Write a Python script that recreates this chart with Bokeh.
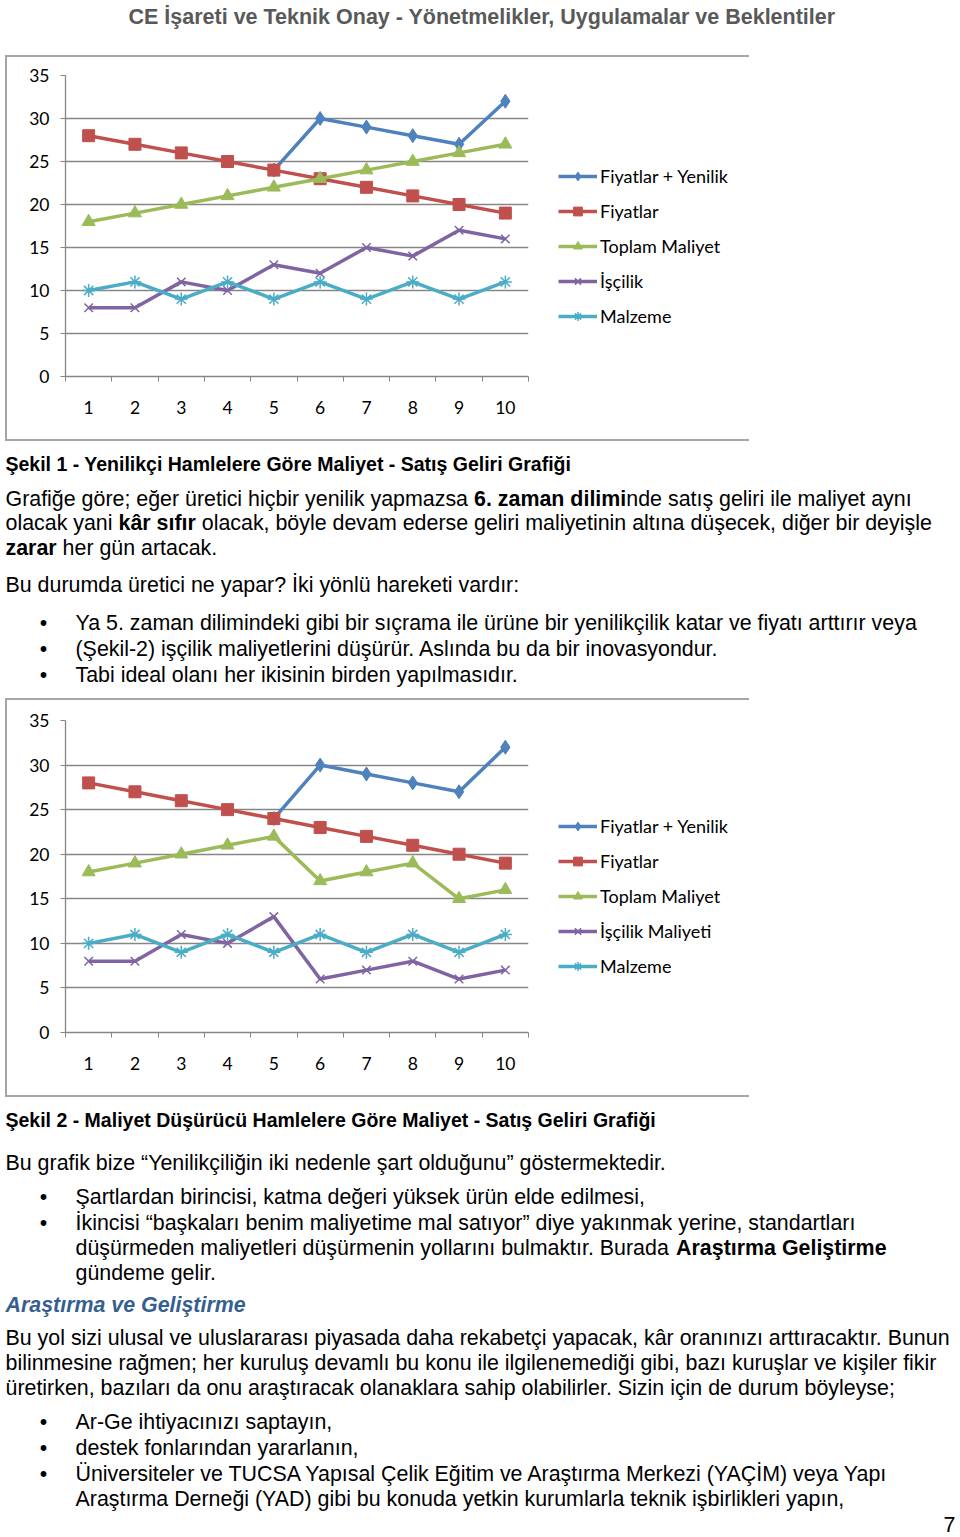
from bokeh.plotting import figure
from bokeh.models import Range1d, FixedTicker, Legend, LegendItem, Spacer
from bokeh.layouts import column, row
from bokeh.core.properties import value
from bokeh.embed import file_html
from bokeh.resources import INLINE

nan = float("nan")

# ---------------- chart data ----------------
periods = [1, 2, 3, 4, 5, 6, 7, 8, 9, 10]
y_ticks = [0, 5, 10, 15, 20, 25, 30, 35]

names_1 = ["Fiyatlar + Yenilik", "Fiyatlar", "Toplam Maliyet", "İşçilik", "Malzeme"]
fig1_fiyat_yenilik = [nan, nan, nan, nan, 24, 30, 29, 28, 27, 32]
fig1_fiyatlar = [28, 27, 26, 25, 24, 23, 22, 21, 20, 19]
fig1_toplam = [18, 19, 20, 21, 22, 23, 24, 25, 26, 27]
fig1_iscilik = [8, 8, 11, 10, 13, 12, 15, 14, 17, 16]
fig1_malzeme = [10, 11, 9, 11, 9, 11, 9, 11, 9, 11]

names_2 = ["Fiyatlar + Yenilik", "Fiyatlar", "Toplam Maliyet", "İşçilik Maliyeti", "Malzeme"]
fig2_fiyat_yenilik = [nan, nan, nan, nan, 24, 30, 29, 28, 27, 32]
fig2_fiyatlar = [28, 27, 26, 25, 24, 23, 22, 21, 20, 19]
fig2_toplam = [18, 19, 20, 21, 22, 17, 18, 19, 15, 16]
fig2_iscilik = [8, 8, 11, 10, 13, 6, 7, 8, 6, 7]
fig2_malzeme = [10, 11, 9, 11, 9, 11, 9, 11, 9, 11]

# ---------------- page texts ----------------
TITLE = "CE İşareti ve Teknik Onay - Yönetmelikler, Uygulamalar ve Beklentiler"
CAPTION_1 = "Şekil 1 - Yenilikçi Hamlelere Göre Maliyet - Satış Geliri Grafiği"
PARA_1 = [
    [("Grafiğe göre; eğer üretici hiçbir yenilik yapmazsa ", "normal"), ("6. zaman dilimi", "bold"),
     ("nde satış geliri ile maliyet aynı", "normal")],
    [("olacak yani ", "normal"), ("kâr sıfır", "bold"),
     (" olacak, böyle devam ederse geliri maliyetinin altına düşecek, diğer bir deyişle", "normal")],
    [("zarar", "bold"), (" her gün artacak.", "normal")],
]
PARA_2 = "Bu durumda üretici ne yapar? İki yönlü hareketi vardır:"
BULLETS_1 = [
    "Ya 5. zaman dilimindeki gibi bir sıçrama ile ürüne bir yenilikçilik katar ve fiyatı arttırır veya",
    "(Şekil-2) işçilik maliyetlerini düşürür. Aslında bu da bir inovasyondur.",
    "Tabi ideal olanı her ikisinin birden yapılmasıdır.",
]
CAPTION_2 = "Şekil 2 - Maliyet Düşürücü Hamlelere Göre Maliyet - Satış Geliri Grafiği"
PARA_3 = "Bu grafik bize “Yenilikçiliğin iki nedenle şart olduğunu” göstermektedir."
BULLETS_2 = [
    [[("Şartlardan birincisi, katma değeri yüksek ürün elde edilmesi,", "normal")]],
    [[("İkincisi “başkaları benim maliyetime mal satıyor” diye yakınmak yerine, standartları", "normal")],
     [("düşürmeden maliyetleri düşürmenin yollarını bulmaktır. Burada ", "normal"),
      ("Araştırma Geliştirme", "bold")],
     [("gündeme gelir.", "normal")]],
]
HEADING = "Araştırma ve Geliştirme"
PARA_4 = [
    "Bu yol sizi ulusal ve uluslararası piyasada daha rekabetçi yapacak, kâr oranınızı arttıracaktır. Bunun",
    "bilinmesine rağmen; her kuruluş devamlı bu konu ile ilgilenemediği gibi, bazı kuruşlar ve kişiler fikir",
    "üretirken, bazıları da onu araştıracak olanaklara sahip olabilirler. Sizin için de durum böyleyse;",
]
BULLETS_3 = [
    ["Ar-Ge ihtiyacınızı saptayın,"],
    ["destek fonlarından yararlanın,"],
    ["Üniversiteler ve TUCSA Yapısal Çelik Eğitim ve Araştırma Merkezi (YAÇİM) veya Yapı",
     "Araştırma Derneği (YAD) gibi bu konuda yetkin kurumlarla teknik işbirlikleri yapın,"],
]
PAGE_NO = "7"

# ---------------- styling ----------------
BODY_FONT = "Liberation Sans"
BODY_FS = 21.4
CAP_FS = 19.5
CHART_FONT = "Lato"
GRID = "#868686"
FRAME_LINE = "#a6a6a6"
COLORS = ["#4F81BD", "#C0504D", "#9BBB59", "#8064A2", "#4BACC6"]

# Arial-compatible advance widths (1/1000 em) used to chain mixed-weight segments
REG_W = {' ': 278, '.': 278, ',': 278, ';': 278, 'a': 556, 'b': 556, 'c': 500, 'd': 556, 'e': 556,
         'f': 278, 'g': 556, 'h': 556, 'i': 222, 'k': 500, 'l': 222, 'm': 833, 'n': 556, 'o': 556,
         'p': 556, 'r': 333, 's': 500, 't': 278, 'u': 556, 'y': 500, 'z': 500, 'ğ': 556, 'ü': 556,
         'ş': 500, 'ç': 500, 'ı': 278, 'ö': 556, 'â': 556, 'G': 778, 'B': 667}
BOLD_W = {' ': 278, '.': 278, '6': 556, 'a': 556, 'd': 611, 'f': 333, 'i': 278, 'k': 556, 'l': 278,
          'm': 889, 'n': 611, 'r': 389, 's': 556, 'z': 500, 'â': 556, 'ı': 278, 'e': 556, 't': 333,
          'ş': 556, 'A': 722, 'G': 778}


def no_align(p):
    try:
        p.frame_align = False
    except Exception:
        pass


def text_width(s, style, fs):
    table = BOLD_W if "bold" in style else REG_W
    return sum(table.get(c, 556) for c in s) / 1000.0 * fs


def text_fig(y_top, y_bottom):
    p = figure(width=960, height=int(y_bottom - y_top), x_range=Range1d(0, 960),
               y_range=Range1d(y_bottom, y_top), output_backend="svg", toolbar_location=None,
               x_axis_location=None, y_axis_location=None, min_border=0)
    p.grid.visible = False
    p.outline_line_color = None
    no_align(p)
    return p


def put(p, x, y, s, style="normal", fs=BODY_FS, color="#000000", align="left", font=BODY_FONT):
    p.text(x=[x], y=[y], text=[s], text_font=value(font), text_font_size=value(f"{fs}px"),
           text_font_style=style, text_color=color, text_align=align, text_baseline="middle")


def put_segments(p, x, y, segs, fs=BODY_FS):
    for s, style in segs:
        lead = len(s) - len(s.lstrip(" "))
        x += text_width(" " * lead, style, fs)
        s = s.lstrip(" ")
        put(p, x, y, s, style, fs)
        x += text_width(s, style, fs)


def bullet(p, y):
    put(p, 43, y, "•", "normal", BODY_FS, align="center")


def rule(w, h):
    return Spacer(width=w, height=h, styles={"background-color": FRAME_LINE})


# ---------------- charts ----------------
def chart(series, names, frame_h, top, bottom, legend_y):
    p = figure(frame_width=463, frame_height=frame_h, x_range=Range1d(0.5, 10.5),
               y_range=Range1d(0, 35), output_backend="svg", toolbar_location=None,
               min_border_left=58, min_border_right=219, min_border_top=top,
               min_border_bottom=bottom)
    no_align(p)
    p.outline_line_color = None
    p.xgrid.grid_line_color = None
    p.ygrid.ticker = FixedTicker(ticks=y_ticks)
    p.ygrid.grid_line_color = GRID
    p.ygrid.grid_line_width = 1.3

    p.xaxis.ticker = FixedTicker(ticks=periods, minor_ticks=[i + 0.5 for i in range(0, 11)])
    p.xaxis.major_tick_line_color = None
    p.xaxis.major_tick_out = 0
    p.xaxis.minor_tick_line_color = GRID
    p.xaxis.minor_tick_out = 5
    p.xaxis.minor_tick_in = 0
    p.xaxis.major_label_standoff = 19

    p.yaxis.ticker = FixedTicker(ticks=y_ticks)
    p.yaxis.minor_tick_line_color = None
    p.yaxis.major_tick_line_color = GRID
    p.yaxis.major_tick_out = 5
    p.yaxis.major_tick_in = 0
    p.yaxis.major_label_standoff = 11

    for ax in (p.xaxis, p.yaxis):
        ax.axis_line_color = GRID
        ax.axis_line_width = 1.3
        ax.major_label_text_font = CHART_FONT
        ax.major_label_text_font_size = "17.5px"
        ax.major_label_text_color = "#000000"

    markers = [("diamond", 14), ("square", 12), ("triangle", 13), ("x", 12), ("asterisk", 13)]
    items = []
    for vals, name, col, (mk, sz) in zip(series, names, COLORS, markers):
        lr = p.line(periods, vals, line_color=col, line_width=3.5)
        if mk in ("x", "asterisk"):
            sr = p.scatter(periods, vals, marker=mk, size=sz, line_color=col, line_width=1.5)
        else:
            sr = p.scatter(periods, vals, marker=mk, size=sz, fill_color=col, line_color=col)
        items.append(LegendItem(label=name, renderers=[lr, sr]))

    leg = Legend(items=items, location=(30, legend_y), glyph_width=39, glyph_height=22,
                 label_height=22, label_standoff=3, spacing=13, padding=0, margin=0,
                 border_line_color=None, background_fill_alpha=0,
                 label_text_font=CHART_FONT, label_text_font_size="18px",
                 label_text_color="#000000")
    p.add_layout(leg, "right")

    inner_h = top + frame_h + bottom
    block = column(rule(744, 2),
                   row(rule(2, inner_h), p, rule(2, inner_h), spacing=0),
                   rule(744, 2), spacing=0)
    block.margin = (0, 0, 0, 5)
    return block


c1 = chart([fig1_fiyat_yenilik, fig1_fiyatlar, fig1_toplam, fig1_iscilik, fig1_malzeme],
           names_1, frame_h=301, top=18, bottom=63, legend_y=49)
c2 = chart([fig2_fiyat_yenilik, fig2_fiyatlar, fig2_toplam, fig2_iscilik, fig2_malzeme],
           names_2, frame_h=312, top=20, bottom=63, legend_y=55)

# ---------------- text blocks ----------------
t0 = text_fig(0, 55)
put(t0, 481.5, 16, TITLE, "bold", 21.5, "#595959", align="center")

t1 = text_fig(441, 698)
put(t1, 5, 463, CAPTION_1, "bold", CAP_FS)
for segs, y in zip(PARA_1, [498, 522, 547]):
    put_segments(t1, 5, y, segs)
put(t1, 5, 584, PARA_2)
for line, y in zip(BULLETS_1, [622, 648, 674]):
    bullet(t1, y)
    put(t1, 75, y, line)

t2 = text_fig(1097, 1537)
put(t2, 5, 1119, CAPTION_2, "bold", CAP_FS)
put(t2, 5, 1162, PARA_3)
ys = iter([1196, 1222, 1247, 1272])
for item in BULLETS_2:
    for k, segs in enumerate(item):
        y = next(ys)
        if k == 0:
            bullet(t2, y)
        put_segments(t2, 75, y, segs)
put(t2, 5, 1304, HEADING, "bold italic", BODY_FS, "#365F91")
for line, y in zip(PARA_4, [1337, 1362, 1387]):
    put(t2, 5, y, line)
ys = iter([1421, 1447, 1473, 1498])
for item in BULLETS_3:
    for k, line in enumerate(item):
        y = next(ys)
        if k == 0:
            bullet(t2, y)
        put(t2, 75, y, line)
put(t2, 955, 1524, PAGE_NO, "normal", BODY_FS, align="right")

page = column(t0, c1, t1, c2, t2, spacing=0)
open("out.html", "w").write(file_html(page, INLINE))
